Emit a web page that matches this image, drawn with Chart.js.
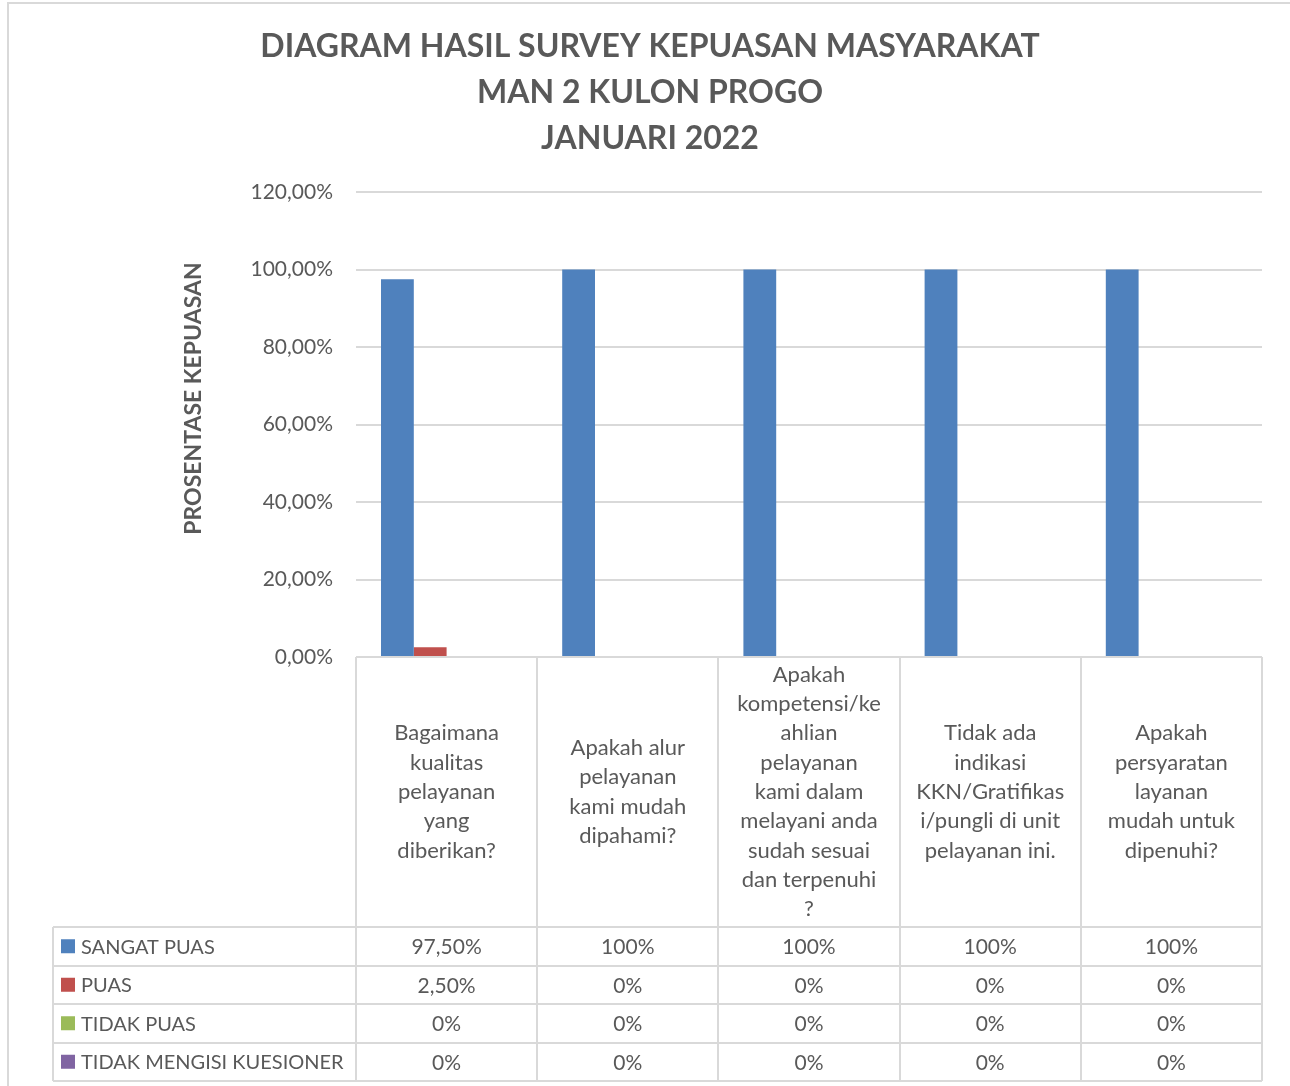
<!DOCTYPE html>
<html>
<head>
<meta charset="utf-8">
<script src="https://cdn.jsdelivr.net/npm/chart.js@4/dist/chart.umd.min.js"></script>
<style>
  body { margin: 0; background: #fff; }
  #wrap { width: 1290px; height: 1086px; position: relative; }
</style>
</head>
<body>
<div id="wrap"><canvas id="myChart"></canvas></div>
<script>
// data
const categories = [
  ['Bagaimana', 'kualitas', 'pelayanan', 'yang', 'diberikan?'],
  ['Apakah alur', 'pelayanan', 'kami mudah', 'dipahami?'],
  ['Apakah', 'kompetensi/ke', 'ahlian', 'pelayanan', 'kami dalam', 'melayani anda', 'sudah sesuai', 'dan terpenuhi', '?'],
  ['Tidak ada', 'indikasi', 'KKN/Gratifikas', 'i/pungli di unit', 'pelayanan ini.'],
  ['Apakah', 'persyaratan', 'layanan', 'mudah untuk', 'dipenuhi?']
];
const seriesNames = ['SANGAT PUAS', 'PUAS', 'TIDAK PUAS', 'TIDAK MENGISI KUESIONER'];
const sangatPuas = [97.5, 100, 100, 100, 100];
const puas = [2.5, 0, 0, 0, 0];
const tidakPuas = [0, 0, 0, 0, 0];
const tidakMengisi = [0, 0, 0, 0, 0];
const yTicks = [0, 20, 40, 60, 80, 100, 120];
const titleLines = ['DIAGRAM HASIL SURVEY KEPUASAN MASYARAKAT', 'MAN 2 KULON PROGO', 'JANUARI 2022'];
const yTitle = 'PROSENTASE KEPUASAN';

const colors = ['#4f81bd', '#c0504d', '#9bbb59', '#8064a2'];
const textColor = '#595959';
const lineColor = '#d9d9d9';
const FONT = 'Lato, "Open Sans", sans-serif';

function fmtTable(v) {
  return Number.isInteger(v) ? v + '%' : v.toFixed(2).replace('.', ',') + '%';
}

const allSeries = [sangatPuas, puas, tidakPuas, tidakMengisi];

// title, axis title and the data table under the plot
const tablePlugin = {
  id: 'dataTable',
  afterDraw(chart) {
    const ctx = chart.ctx;
    const a = chart.chartArea;
    const x = chart.scales.x;
    const n = categories.length;
    const colW = (a.right - a.left) / n;
    const tableLeft = 53;
    const headerBottom = a.bottom + 270;
    const rowH = 38.5;
    const tableBottom = headerBottom + rowH * seriesNames.length;

    ctx.save();
    // outer chart border
    ctx.strokeStyle = lineColor;
    ctx.lineWidth = 2;
    ctx.beginPath();
    ctx.moveTo(8, 1090); ctx.lineTo(8, 3); ctx.lineTo(1295, 3);
    ctx.stroke();

    // title
    ctx.fillStyle = textColor;
    ctx.textAlign = 'center';
    ctx.textBaseline = 'middle';
    ctx.font = 'bold 32px ' + FONT;
    titleLines.forEach((t, i) => ctx.fillText(t, 650, 47 + i * 46));

    // y axis title
    ctx.save();
    ctx.translate(194, (a.top + a.bottom) / 2 - 26);
    ctx.rotate(-Math.PI / 2);
    ctx.font = 'bold 23px ' + FONT;
    ctx.fillText(yTitle, 0, 0);
    ctx.restore();

    // table grid
    ctx.strokeStyle = lineColor;
    ctx.lineWidth = 2;
    ctx.beginPath();
    for (let i = 0; i <= n; i++) {
      const px = Math.round(a.left + colW * i);
      ctx.moveTo(px, a.bottom); ctx.lineTo(px, tableBottom);
    }
    ctx.moveTo(a.left, a.bottom); ctx.lineTo(a.right, a.bottom);
    for (let r = 0; r <= seriesNames.length; r++) {
      const py = Math.round(headerBottom + rowH * r);
      ctx.moveTo(tableLeft, py); ctx.lineTo(a.right, py);
    }
    ctx.moveTo(tableLeft, headerBottom); ctx.lineTo(tableLeft, tableBottom);
    ctx.stroke();

    // category labels
    ctx.font = '22px ' + FONT;
    ctx.fillStyle = textColor;
    const lh = 29.3;
    const midHeader = (a.bottom + headerBottom) / 2;
    categories.forEach((lines, i) => {
      const cx = x.getPixelForValue(i);
      const y0 = midHeader - (lines.length - 1) * lh / 2;
      lines.forEach((ln, j) => ctx.fillText(ln, cx, y0 + j * lh));
    });

    // rows
    seriesNames.forEach((name, r) => {
      const cy = headerBottom + rowH * r + rowH / 2;
      ctx.fillStyle = colors[r];
      ctx.fillRect(61, cy - 7, 14, 14);
      ctx.fillStyle = textColor;
      ctx.textAlign = 'left';
      ctx.font = '20px ' + FONT;
      ctx.fillText(name, 81, cy + 1);
      ctx.textAlign = 'center';
      ctx.font = '21px ' + FONT;
      allSeries[r].forEach((v, i) => {
        ctx.fillText(fmtTable(v), x.getPixelForValue(i), cy + 1);
      });
    });
    ctx.restore();
  }
};

const context = document.getElementById('myChart');
const myChart = new Chart(context, {
  type: 'bar',
  data: {
    labels: categories.map(c => c.join(' ')),
    datasets: seriesNames.map((name, i) => ({
      label: name,
      data: allSeries[i],
      backgroundColor: colors[i],
      categoryPercentage: 0.724,
      barPercentage: 1
    }))
  },
  options: {
    responsive: true,
    maintainAspectRatio: false,
    animation: false,
    layout: { padding: { left: 0, right: 28, top: 192, bottom: 429 } },
    plugins: {
      legend: { display: false },
      title: { display: false },
      tooltip: { enabled: false }
    },
    scales: {
      x: { display: false },
      y: {
        min: 0,
        max: 120,
        afterBuildTicks: s => { s.ticks = yTicks.map(v => ({ value: v })); },
        afterFit: s => { s.width = 356; },
        border: { display: false },
        grid: { color: lineColor, lineWidth: 2, drawTicks: false },
        ticks: {
          padding: 23,
          color: textColor,
          font: { family: FONT, size: 21 },
          callback: v => v.toFixed(2).replace('.', ',') + '%'
        }
      }
    }
  },
  plugins: [tablePlugin]
});
</script>
</body>
</html>
